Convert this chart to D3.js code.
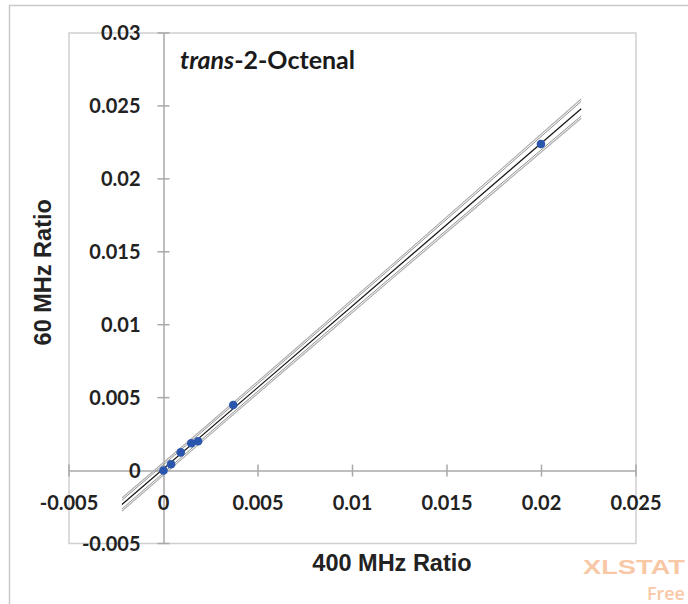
<!DOCTYPE html>
<html>
<head>
<meta charset="utf-8">
<script src="https://cdn.jsdelivr.net/npm/d3@7"></script>
<style>
  html, body { margin: 0; padding: 0; background: #fff; }
  svg { display: block; }
</style>
</head>
<body>
<svg id="chart" width="688" height="604"></svg>
<script>
// Observed ratios (400 MHz reference vs 60 MHz benchtop)
const x400 = [0, 0.0004, 0.00091, 0.00147, 0.00183, 0.00369, 0.01997];
const y60  = [0, 0.00043, 0.00125, 0.00187, 0.00201, 0.0045, 0.02239];

// Axis ticks
const xTicks = [-0.005, 0, 0.005, 0.01, 0.015, 0.02, 0.025];
const yTicks = [-0.005, 0, 0.005, 0.01, 0.015, 0.02, 0.025, 0.03];
const xTickLabels = ["-0.005", "0", "0.005", "0.01", "0.015", "0.02", "0.025"];
const yTickLabels = ["-0.005", "0", "0.005", "0.01", "0.015", "0.02", "0.025", "0.03"];

// Regression line extent and interval half-widths along it
const fitRange = [-0.0022, 0.0221];
const bandX     = [-0.0022, 0.002, 0.006, 0.012, 0.0221];
const bandInner = [0.0003, 0.00026, 0.00026, 0.00032, 0.0005];
const bandOuter = [0.00045, 0.00041, 0.00041, 0.00047, 0.00066];

const title = "2-Octenal";
const titlePrefix = "trans";
const xTitle = "400 MHz Ratio";
const yTitle = "60 MHz Ratio";

const svg = d3.select("#chart");
const frame = { left: 69, right: 636, top: 33, bottom: 543.5 };

const x = d3.scaleLinear().domain([-0.005, 0.025]).range([frame.left, frame.right]);
const y = d3.scaleLinear().domain([-0.005, 0.03]).range([frame.bottom, frame.top]);

// Least squares fit through the observations
const n = x400.length;
const mx = d3.mean(x400), my = d3.mean(y60);
let sxy = 0, sxx = 0;
for (let i = 0; i < n; i++) { sxy += (x400[i] - mx) * (y60[i] - my); sxx += (x400[i] - mx) ** 2; }
const slope = sxy / sxx;
const intercept = my - slope * mx;
const fit = v => intercept + slope * v;

// Outer frame of the chart sheet
svg.append("path")
  .attr("d", `M9.5,604 V5.5 H688`)
  .attr("fill", "none").attr("stroke", "#c9c9c9").attr("stroke-width", 1.5);

// Plot area border
svg.append("rect")
  .attr("x", frame.left).attr("y", frame.top)
  .attr("width", frame.right - frame.left).attr("height", frame.bottom - frame.top)
  .attr("fill", "none").attr("stroke", "#cfcfcf").attr("stroke-width", 1.5);

// Axes through the origin
const axisColor = "#a9a9a9";
const xAxis = d3.axisBottom(x).tickValues(xTicks).tickSize(0).tickFormat("");
const yAxis = d3.axisLeft(y).tickValues(yTicks).tickSize(0).tickFormat("");
const gx = svg.append("g").attr("transform", `translate(0,${y(0)})`).call(xAxis);
const gy = svg.append("g").attr("transform", `translate(${x(0)},0)`).call(yAxis);
[gx, gy].forEach(g => g.select(".domain").attr("stroke", axisColor).attr("stroke-width", 1.5));

// Tick marks crossing the axes
svg.append("g").selectAll("line").data(xTicks).join("line")
  .attr("x1", d => x(d)).attr("x2", d => x(d))
  .attr("y1", y(0) - 6).attr("y2", y(0) + 6)
  .attr("stroke", axisColor).attr("stroke-width", 1.5);
svg.append("g").selectAll("line").data(yTicks).join("line")
  .attr("x1", x(0) - 6).attr("x2", x(0) + 6)
  .attr("y1", d => y(d)).attr("y2", d => y(d))
  .attr("stroke", axisColor).attr("stroke-width", 1.5);

// Tick labels
const tickFont = "Lato, 'Open Sans', sans-serif";
svg.append("g").selectAll("text").data(xTicks).join("text")
  .attr("x", d => x(d)).attr("y", y(0) + 39)
  .attr("text-anchor", "middle")
  .attr("font-family", tickFont).attr("font-weight", 700).attr("font-size", 20)
  .attr("fill", "#222")
  .text((d, i) => xTickLabels[i]);
svg.append("g").selectAll("text").data(yTicks).join("text")
  .attr("x", x(0) - 23).attr("y", d => y(d) + 7)
  .attr("text-anchor", "end")
  .attr("font-family", tickFont).attr("font-weight", 700).attr("font-size", 20)
  .attr("fill", "#222")
  .text((d, i) => yTickLabels[i]);

// Interval curves and regression line
const bandLine = (sign, widths) => d3.line()
  .x((d, i) => x(d))
  .y((d, i) => y(fit(d) + sign * widths[i]))
  .curve(d3.curveMonotoneX)(bandX);

const bands = svg.append("g").attr("fill", "none");
[[1, bandOuter], [-1, bandOuter]].forEach(([s, w]) =>
  bands.append("path").attr("d", bandLine(s, w)).attr("stroke", "#b0b0b0").attr("stroke-width", 1.2));
[[1, bandInner], [-1, bandInner]].forEach(([s, w]) =>
  bands.append("path").attr("d", bandLine(s, w)).attr("stroke", "#8f8f8f").attr("stroke-width", 1));

svg.append("line")
  .attr("x1", x(fitRange[0])).attr("y1", y(fit(fitRange[0])))
  .attr("x2", x(fitRange[1])).attr("y2", y(fit(fitRange[1])))
  .attr("stroke", "#1a1a1a").attr("stroke-width", 1.3);

// Observations
svg.append("g").selectAll("circle").data(x400).join("circle")
  .attr("cx", d => x(d)).attr("cy", (d, i) => y(y60[i]))
  .attr("r", 4.3).attr("fill", "#2a56ad");

// Chart title
const t = svg.append("text")
  .attr("x", 180).attr("y", 69)
  .attr("font-family", tickFont).attr("font-weight", 700).attr("font-size", 25)
  .attr("fill", "#1a1a1a");
t.append("tspan").attr("font-style", "italic").text(titlePrefix);
t.append("tspan").text("-" + title);

// Axis titles
const titleFont = "'Liberation Sans', Arial, sans-serif";
svg.append("text")
  .attr("x", 392).attr("y", 571)
  .attr("text-anchor", "middle")
  .attr("font-family", titleFont).attr("font-weight", 700).attr("font-size", 23.5)
  .attr("fill", "#222")
  .text(xTitle);
svg.append("text")
  .attr("transform", `translate(51,${(frame.top + frame.bottom) / 2 - 16}) rotate(-90)`)
  .attr("text-anchor", "middle")
  .attr("font-family", titleFont).attr("font-weight", 700).attr("font-size", 23.5)
  .attr("fill", "#222")
  .text(yTitle);

// Software watermark
svg.append("text")
  .attr("x", 685).attr("y", 574)
  .attr("text-anchor", "end")
  .attr("font-family", "'Liberation Sans', Arial, sans-serif").attr("font-weight", 700).attr("font-size", 21)
  .attr("textLength", 102).attr("lengthAdjust", "spacingAndGlyphs")
  .attr("fill", "#f8c8a6")
  .text("XLSTAT");
svg.append("text")
  .attr("x", 685).attr("y", 600)
  .attr("text-anchor", "end")
  .attr("font-family", "'Open Sans', sans-serif").attr("font-weight", 600).attr("font-size", 18)
  .attr("fill", "#f8c8a6")
  .text("Free");
</script>
</body>
</html>
